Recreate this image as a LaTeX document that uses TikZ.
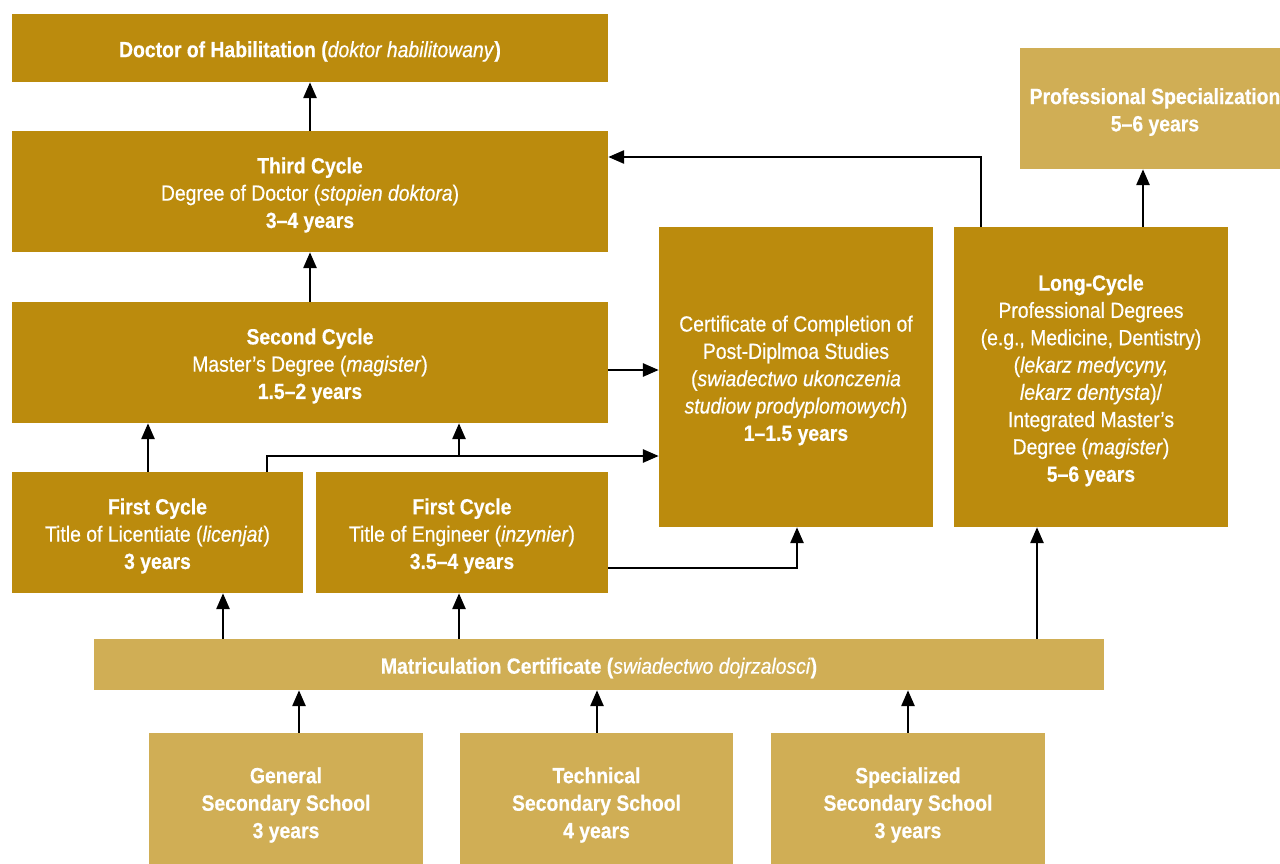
\documentclass[tikz,border=0pt]{standalone}
\usepackage{fontspec}
\setmainfont{Liberation Sans}[FakeStretch=0.88,FakeBold=0.5]
\usetikzlibrary{arrows.meta}
\definecolor{gold}{HTML}{BB8B0D}
\definecolor{sand}{HTML}{D0AE55}
\begin{document}
\begin{tikzpicture}[x=1pt,y=-1pt,
  box/.style={fill=gold,draw=none,inner sep=0pt},
  lbox/.style={box,fill=sand},
  lab/.style={align=center,text=white,inner sep=0pt,yshift=-3.5pt,
    font=\fontsize{22}{27.3}\selectfont},
  txt/.style={label={[lab]center:{#1}}},
  btxt/.style={label={[lab,font=\fontsize{22}{27.5}\selectfont\bfseries,yshift=1.5pt]center:{#1}}},
  arr/.style={-{Triangle[length=16pt,width=13pt]},line width=2.8pt,black}]
\useasboundingbox (0,0) rectangle (1280,864);
\clip (0,0) rectangle (1280,864);

% degree boxes
\node[box,minimum width=596pt,minimum height=68pt,
  txt={\textbf{Doctor of Habilitation (}\textit{doktor habilitowany}\textbf{)}}] (hab) at (310,48) {};
\node[box,minimum width=596pt,minimum height=121pt,
  txt={\textbf{Third Cycle}\\Degree of Doctor (\textit{stopien doktora})\\\textbf{3–4 years}}] (third) at (310,191.5) {};
\node[box,minimum width=596pt,minimum height=121pt,
  txt={\textbf{Second Cycle}\\Master’s Degree (\textit{magister})\\\textbf{1.5–2 years}}] (second) at (310,362.5) {};
\node[box,minimum width=291pt,minimum height=121pt,
  txt={\textbf{First Cycle}\\Title of Licentiate (\textit{licenjat})\\\textbf{3 years}}] (lic) at (157.5,532.5) {};
\node[box,minimum width=292pt,minimum height=121pt,
  txt={\textbf{First Cycle}\\Title of Engineer (\textit{inzynier})\\\textbf{3.5–4 years}}] (eng) at (462,532.5) {};
\node[box,minimum width=274pt,minimum height=300pt,
  txt={Certificate of Completion of\\Post-Diplmoa Studies\\(\textit{swiadectwo ukonczenia}\\\textit{studiow prodyplomowych})\\\textbf{1–1.5 years}}] (cert) at (796,377) {};
\node[box,minimum width=274pt,minimum height=300pt,
  txt={\textbf{Long-Cycle}\\Professional Degrees\\(e.g., Medicine, Dentistry)\\(\textit{lekarz medycyny,}\\\textit{lekarz dentysta})/\\Integrated Master’s\\Degree (\textit{magister})\\\textbf{5–6 years}}] (long) at (1091,377) {};
\node[lbox,minimum width=270pt,minimum height=121pt,
  txt={\textbf{Professional Specialization}\\\textbf{5–6 years}}] (pspec) at (1155,108.5) {};

% entry level
\node[lbox,minimum width=1010pt,minimum height=51pt,
  txt={\textbf{Matriculation Certificate (}\textit{swiadectwo dojrzalosci}\textbf{)}}] (matric) at (599,664.5) {};
\node[lbox,minimum width=274pt,minimum height=140pt,
  btxt={General\\Secondary School\\3 years}] (gen) at (286,803) {};
\node[lbox,minimum width=273pt,minimum height=140pt,
  btxt={Technical\\Secondary School\\4 years}] (tech) at (596.5,803) {};
\node[lbox,minimum width=274pt,minimum height=140pt,
  btxt={Specialized\\Secondary School\\3 years}] (sps) at (908,803) {};

% helper points on box edges
\coordinate (licA) at ([xshift=-9.5pt]lic.north);
\coordinate (licB) at ([xshift=109.5pt]lic.north);
\coordinate (certIn) at ([yshift=-79pt]cert.west);
\coordinate (jn) at (licB |- certIn);
\coordinate (jn2) at ([xshift=-3pt]eng.north |- jn);
\coordinate (secOut) at ([yshift=-7.5pt]second.east);
\coordinate (engOut) at ([yshift=-35.5pt]eng.east);
\coordinate (certIn2) at ([xshift=1pt]cert.south);
\coordinate (longA) at ([xshift=-110pt]long.north);
\coordinate (thirdIn) at ([yshift=34.5pt]third.east);
\coordinate (longB) at ([xshift=52pt]long.north);
\coordinate (m1) at ([xshift=65.5pt]lic.south);
\coordinate (m2) at ([xshift=-3pt]eng.south);
\coordinate (m3) at ([xshift=-54pt]long.south);
\coordinate (s1) at ([xshift=13pt]gen.north);
\coordinate (s2) at ([xshift=0.5pt]tech.north);
\coordinate (s3) at (sps.north);

% connectors
\draw[arr] (third.north) -- (hab.south);
\draw[arr] (second.north) -- (third.south);
\draw[arr] (licA) -- (licA |- second.south);
\draw[arr] (licB) |- (certIn);
\draw[arr] (jn2) -- (jn2 |- second.south);
\draw[arr] (secOut) -- (secOut -| cert.west);
\draw[arr] (engOut) -| (certIn2);
\draw[arr] (longA) |- (thirdIn);
\draw[arr] (longB) -- (longB |- pspec.south);
\draw[arr] (m1 |- matric.north) -- (m1);
\draw[arr] (m2 |- matric.north) -- (m2);
\draw[arr] (m3 |- matric.north) -- (m3);
\draw[arr] (s1) -- (s1 |- matric.south);
\draw[arr] (s2) -- (s2 |- matric.south);
\draw[arr] (s3) -- (s3 |- matric.south);
\end{tikzpicture}
\end{document}
